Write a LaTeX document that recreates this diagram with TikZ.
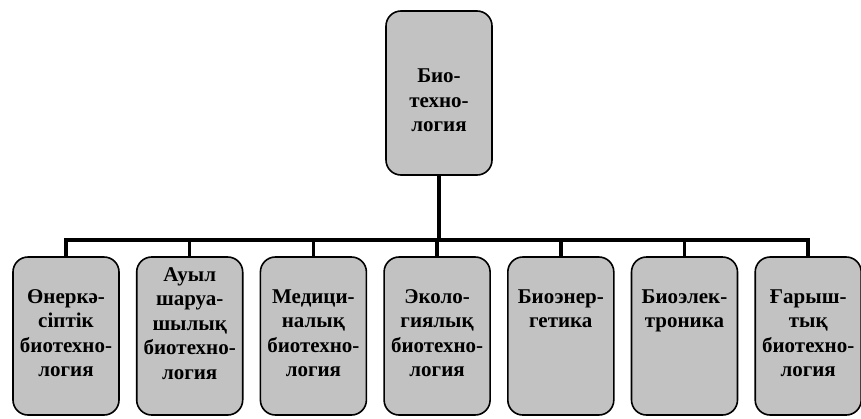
\documentclass[tikz,border=0pt]{standalone}
\usepackage{fontspec}
\setmainfont{Liberation Serif}
\usetikzlibrary{positioning}

\begin{document}
\begin{tikzpicture}[x=1pt, y=-1pt,
    box/.style={draw, line width=1.6pt, rounded corners=15pt, fill=black!24,
        minimum width=106pt, inner sep=0pt},
    label/.style={align=center, anchor=north, inner sep=0pt,
        font=\fontsize{21}{24.5}\selectfont\bfseries},
    link/.style={line width=3.5pt, line join=miter}]
    \useasboundingbox (0,0) rectangle (861,418);
    % top node
    \node[box, minimum height=164pt] (bio) at (439,93) {};
    \node[label] (biotext) at (439,69) {Био-\\техно-\\логия};
    % bottom row
    \foreach \i in {1,...,7}
        \node[box, minimum height=158pt] (b\i) at ({66+(\i-1)*123.7},336) {};
    \node[label] (t1) at ([yshift=-33pt]b1.north) {Өнеркә-\\сіптік\\биотехно-\\логия};
    \node[label] (t2) at ([yshift=-11pt]b2.north) {Ауыл\\шаруа-\\шылық\\биотехно-\\логия};
    \node[label] (t3) at ([yshift=-33pt]b3.north) {Медици-\\налық\\биотехно-\\логия};
    \node[label] (t4) at ([yshift=-33pt]b4.north) {Эколо-\\гиялық\\биотехно-\\логия};
    \node[label] (t5) at ([yshift=-33pt]b5.north) {Биоэнер-\\гетика};
    \node[label] (t6) at ([yshift=-33pt]b6.north) {Биоэлек-\\троника};
    \node[label] (t7) at ([yshift=-33pt]b7.north) {Ғарыш-\\тық\\биотехно-\\логия};
    % connectors
    \coordinate (bus) at (439,240);
    \draw[link] (bio.south) -- (bus);
    \draw[link] (b1.north) -- (b1.north |- bus) -- (b7.north |- bus) -- (b7.north);
    \foreach \i in {2,...,6}
        \draw[link] (b\i.north |- bus) -- (b\i.north);
\end{tikzpicture}
\end{document}
